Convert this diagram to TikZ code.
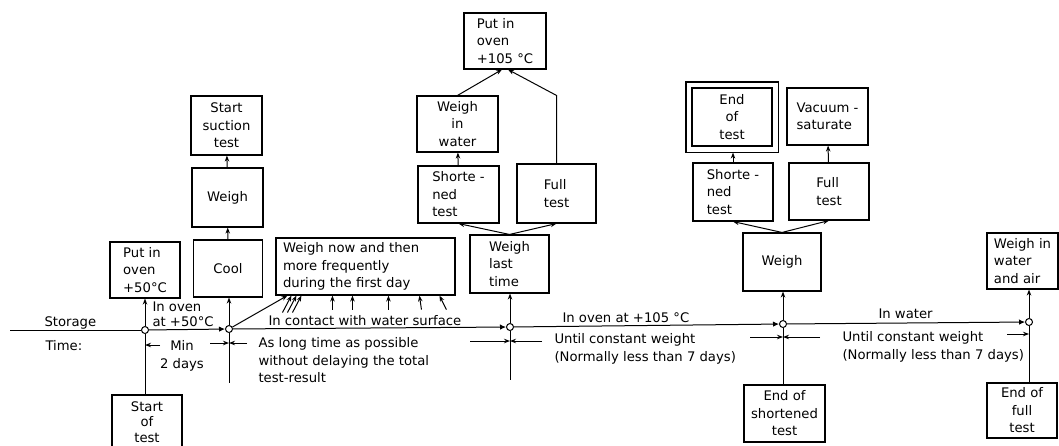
\documentclass[tikz,border=0pt]{standalone}
\usepackage{fontspec}
\newfontfamily\diagfont{DejaVu Sans}
\usetikzlibrary{arrows.meta,fit}

\begin{document}
\begin{tikzpicture}[
	x=1pt, y=-1pt, line width=1pt,
	every node/.style={ font=\diagfont\fontsize{13.2}{17.5}\selectfont },
	stepbox/.style={ draw, line width=1.1pt, inner sep=2pt, minimum width=#1, minimum height=57pt, align=center },
	stepbox/.default=80pt,
	junc/.style={ circle, draw, fill=white, inner sep=0pt, minimum size=7pt },
	txt/.style={ inner sep=0pt, align=left },
	arr/.style={ -{Stealth[length=6pt,width=4.5pt]} },
	into/.style={ -{Latex[length=6pt,width=5.5pt]} }
]

\useasboundingbox (0,0) rectangle (1059,445);

\node at (145,330) (j1) [junc] {};
\node at (229,329) (j2) [junc] {};
\node at (510,327) (j3) [junc] {};
\node at (783,324) (j4) [junc] {};
\node at (1029,322) (j5) [junc] {};
\coordinate (tstart) at (10,330);
\coordinate (j2end) at (229,383);
\coordinate (j3end) at (510,380);

\node at (44,326) (storage) [txt,anchor=base west] {Storage};
\node at (45,350) (time) [txt,anchor=base west] {Time:};
\node at (152,301) (inoven) [txt,anchor=north west,font=\diagfont\fontsize{13.2}{15.5}\selectfont] {In oven\\at +50°C};
\node at (182,340) (mindays) [txt,anchor=north,align=center] {Min\\2 days};
\node at (258,337) (aslong) [txt,anchor=north west] {As long time as possible\\without delaying the total\\test-result};
\node at (268,325) (contact) [txt,anchor=base west] {In contact with water surface};
\node at (562,322) (inoven105) [txt,anchor=base west] {In oven at +105 °C};
\node at (554,333) (untilA) [txt,anchor=north west] {Until constant weight\\(Normally less than 7 days)};
\node at (878,318) (inwater) [txt,anchor=base west] {In water};
\node at (842,331) (untilB) [txt,anchor=north west] {Until constant weight\\(Normally less than 7 days)};

\node at (145,270) (oven50) [stepbox=70pt,align=left,minimum height=56pt] {Put in\\oven\\+50°C};
\node at (228,268.5) (cool) [stepbox=69pt] {Cool};
\node at (227.5,197.5) (weigh1) [stepbox=71pt,minimum height=59pt] {Weigh};
\node at (226.5,125.5) (suction) [stepbox=71pt,minimum height=59pt] {Start\\suction\\test};
\node at (365.5,266.5) (wnow) [stepbox=179pt,align=left,text width=165pt] {Weigh now and then\\more frequently\\during the first day};
\node at (147,422) (start) [stepbox=70pt,minimum height=54pt,font=\diagfont\fontsize{13.2}{15.5}\selectfont] {Start\\of\\test};

\node at (509.5,264) (wlast) [stepbox=79pt,minimum height=58pt,align=left] {Weigh\\last\\time};
\node at (458.5,194.5) (short1) [stepbox=81pt,align=left] {Shorte -\\ned\\test};
\node at (556.5,193.5) (full1) [stepbox=79pt,minimum height=59pt,align=left] {Full\\test};
\node at (457.5,124) (win) [stepbox=81pt,minimum height=56pt] {Weigh\\in\\water};
\node at (505,41) (oven105) [stepbox=82pt,minimum height=56pt,align=left] {Put in\\oven\\+105 °C};

\node at (782,262) (weigh4) [stepbox=78pt,minimum height=58pt] {Weigh};
\node at (733,192) (short2) [stepbox=80pt,minimum height=58pt,align=left] {Shorte -\\ned\\test};
\node at (829,191.5) (full2) [stepbox=80pt,align=left] {Full\\test};
\node at (732,117) (endtest) [stepbox=80pt,minimum height=58pt] {End\\of\\test};
\node (endframe) [draw, line width=1.1pt, inner sep=5.5pt, fit=(endtest)] {};
\node at (827.5,116.5) (vacuum) [stepbox=81pt,align=left] {Vacuum -\\saturate};
\node at (784.5,413.5) (endshort) [stepbox=81pt] {End of\\shortened\\test};

\node at (1022.5,261) (wair) [stepbox=71pt,minimum height=56pt,align=left] {Weigh in\\water\\and air};
\node at (1022,410.5) (endfull) [stepbox=70pt,minimum height=55pt] {End of\\full\\test};

\draw (tstart) -- (j1);
\foreach \a/\b in {j1/j2,j2/j3,j3/j4,j4/j5} \draw[into] (\a) -- (\b);
\foreach \j/\b in {j1/oven50,j2/cool,j3/wlast,j4/weigh4,j5/wair} \draw[arr] (\j) -- (\j |- \b.south);
\draw (j1) -- (j1 |- start.north);
\draw (j2) -- (j2end);
\draw (j3) -- (j3end);
\draw (j4) -- (j4 |- endshort.north);
\draw (j5) -- (j5 |- endfull.north);

\coordinate (m1r) at (160,345);
\coordinate (m2l) at (210,343);
\coordinate (m2r) at (247,343);
\coordinate (m3l) at (470,341);
\coordinate (m3r) at (542,341);
\coordinate (m4l) at (750,337);
\coordinate (m4r) at (820,337);
\coordinate (m5l) at (1007,334);
\foreach \c/\j in {m1r/j1,m2l/j2,m2r/j2,m3l/j3,m3r/j3,m4l/j4,m4r/j4,m5l/j5} \draw[arr] (\c) -- (\j |- \c);

\draw[arr] (j2) -- ([xshift=12pt]wnow.south west);
\foreach \s/\x/\h in {7/16/17,12/21/17,17/26/17,57/57/14,77/77/14,113/113/14,146/144/14,171/164/14}
	\draw[arr] ([shift={(\s,\h)}]wnow.south west) -- ([xshift=\x pt]wnow.south west);

\draw[arr] (cool) -- (weigh1);
\draw[arr] (weigh1) -- (suction);
\foreach \p in {short1,full1} \draw[arr] (wlast.north) -- (\p.south);
\draw[arr] (short1) -- (win);
\draw[arr] (win.north) -- ([xshift=-3pt]oven105.south);
\draw[arr] (full1.north) -- (full1.north |- win.north) -- ([xshift=3pt]oven105.south);
\foreach \p in {short2,full2} \draw[arr] (weigh4.north) -- (\p.south);
\draw[arr] (short2) -- (short2 |- endframe.south);
\draw[arr] (full2) -- (vacuum);

\end{tikzpicture}
\end{document}
